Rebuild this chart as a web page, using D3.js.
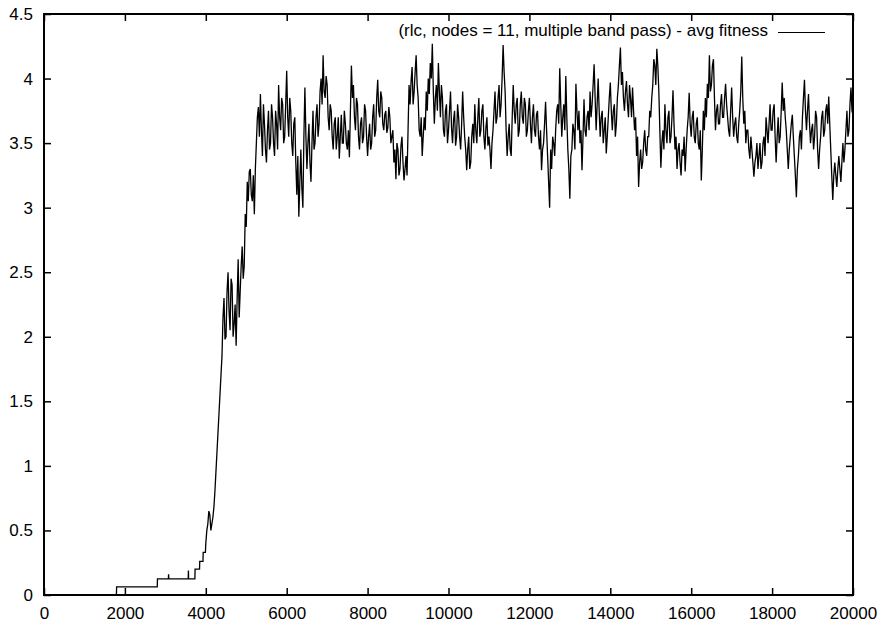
<!DOCTYPE html>
<html>
<head>
<meta charset="utf-8">
<script src="https://cdn.jsdelivr.net/npm/d3@7"></script>
<style>
  body { margin: 0; background: #fff; }
  text { font-family: "Liberation Sans", Arial, sans-serif; font-size: 17px; fill: #000; }
</style>
</head>
<body>
<div id="chart"></div>
<script>
// early generations: fitness climbs in small steps
var earlyGen = [0, 1790, 1795, 2800, 2805, 3075, 3080, 3085, 3565, 3570, 3575, 3730, 3735, 3845, 3850, 3930, 3935, 3990];
var earlyFit = [0, 0, 0.0625, 0.0625, 0.125, 0.125, 0.16, 0.125, 0.125, 0.19, 0.125, 0.125, 0.2, 0.2, 0.26, 0.26, 0.33, 0.33];

// after that, one value every 25 generations, one array per 1000 generations
var sampleStep = 25;
var fit4000 = [0.40, 0.50, 0.55, 0.65, 0.62, 0.50, 0.55, 0.60, 0.68, 0.80, 0.95, 1.10, 1.25, 1.40, 1.55, 1.70, 1.85, 2.15, 2.30, 1.98,
               2.00, 2.35, 2.50, 2.20, 2.05, 2.45, 2.40, 2.00, 2.10, 2.25, 1.93, 2.30, 2.60, 2.15, 2.35, 2.55, 2.70, 2.45, 2.55, 2.95];
var fit5000 = [2.85, 3.20, 3.05, 3.28, 3.30, 3.10, 3.05, 3.25, 2.95, 3.30, 3.50, 3.70, 3.78, 3.55, 3.88, 3.60, 3.40, 3.80, 3.65, 3.45,
               3.35, 3.60, 3.75, 3.45, 3.50, 3.80, 3.70, 3.50, 3.40, 3.75, 3.65, 3.45, 3.95, 3.70, 3.60, 3.85, 3.80, 3.50, 3.55, 3.80];
var fit6000 = [4.06, 3.70, 3.55, 3.85, 3.75, 3.50, 3.40, 3.65, 3.70, 3.35, 3.10, 3.40, 2.93, 3.20, 3.45, 3.15, 3.00, 3.55, 3.93, 3.55,
               3.30, 3.50, 3.65, 3.35, 3.20, 3.50, 3.75, 3.45, 3.50, 3.70, 3.80, 3.55, 3.65, 3.90, 4.00, 3.80, 4.18, 3.90, 3.85, 4.02];
var fit7000 = [3.95, 3.70, 3.60, 3.80, 3.75, 3.55, 3.45, 3.65, 3.70, 3.45, 3.55, 3.70, 3.38, 3.55, 3.72, 3.50, 3.50, 3.75, 3.65, 3.50,
               3.45, 3.60, 3.39, 3.75, 4.10, 3.85, 3.95, 3.70, 3.60, 3.85, 3.80, 3.55, 3.45, 3.65, 3.70, 3.50, 3.55, 3.80, 3.75, 3.55];
var fit8000 = [3.40, 3.55, 3.65, 3.45, 3.50, 3.70, 3.80, 3.55, 3.60, 3.85, 3.99, 3.75, 3.70, 3.90, 3.85, 3.65, 3.60, 3.72, 3.75, 3.58,
               3.62, 3.78, 3.70, 3.50, 3.55, 3.60, 3.35, 3.45, 3.22, 3.50, 3.45, 3.25, 3.30, 3.48, 3.55, 3.35, 3.21, 3.30, 3.40, 3.25];
var fit9000 = [3.60, 3.95, 3.80, 3.98, 4.09, 3.80, 3.90, 4.05, 4.18, 3.95, 3.85, 3.60, 3.55, 3.70, 3.40, 3.55, 3.70, 3.60, 3.90, 3.75,
               4.00, 3.88, 4.12, 4.00, 4.27, 3.90, 3.65, 3.85, 3.95, 3.75, 4.12, 3.90, 3.70, 3.95, 3.85, 3.60, 3.55, 3.75, 3.80, 3.50];
var fit10000 = [3.60, 3.75, 3.90, 3.62, 3.50, 3.68, 3.75, 3.48, 3.55, 3.80, 3.70, 3.55, 3.45, 3.65, 3.90, 3.70, 3.55, 3.45, 3.29, 3.45,
                3.55, 3.30, 3.35, 3.55, 3.65, 3.50, 3.80, 3.60, 3.50, 3.70, 3.85, 3.55, 3.60, 3.75, 3.80, 3.55, 3.45, 3.62, 3.70, 3.48];
var fit11000 = [3.55, 3.45, 3.30, 3.50, 3.60, 3.75, 3.90, 3.65, 3.70, 3.85, 3.95, 3.70, 3.80, 4.00, 4.26, 4.05, 3.90, 3.60, 3.40, 3.55,
                3.65, 3.45, 3.40, 3.70, 3.95, 3.75, 3.65, 3.80, 3.85, 3.55, 3.60, 3.80, 3.90, 3.70, 3.65, 3.85, 3.80, 3.55, 3.60, 3.75];
var fit12000 = [3.85, 3.65, 3.50, 3.70, 3.80, 3.60, 3.55, 3.72, 3.75, 3.55, 3.45, 3.60, 3.29, 3.45, 3.50, 3.65, 3.82, 3.60, 3.40, 3.20,
                3.00, 3.45, 3.30, 3.55, 3.50, 3.40, 3.61, 3.75, 3.80, 3.65, 4.08, 3.80, 3.55, 3.70, 3.80, 3.60, 4.02, 3.70, 3.45, 3.30];
var fit13000 = [3.07, 3.40, 3.45, 3.65, 3.60, 3.45, 3.96, 3.75, 3.60, 3.75, 3.50, 3.60, 3.29, 3.55, 3.84, 3.60, 3.55, 3.70, 3.75, 3.60,
                3.90, 3.70, 3.80, 3.95, 4.11, 3.85, 3.60, 3.80, 4.00, 3.75, 3.55, 3.70, 3.75, 3.50, 3.60, 3.70, 3.42, 3.55, 3.70, 3.85];
var fit14000 = [3.97, 3.75, 3.60, 3.75, 3.80, 3.55, 3.65, 3.85, 3.95, 4.10, 4.24, 3.95, 4.05, 3.85, 3.75, 3.90, 3.98, 3.80, 3.70, 3.95,
                3.85, 3.70, 3.93, 3.75, 3.60, 3.70, 3.40, 3.55, 3.16, 3.35, 3.45, 3.30, 3.35, 3.50, 3.60, 3.45, 3.40, 3.55, 3.55, 3.75];
var fit15000 = [3.70, 3.85, 3.95, 4.15, 4.10, 3.95, 4.23, 4.10, 3.90, 3.60, 3.31, 3.50, 3.60, 3.45, 3.80, 3.60, 3.50, 3.70, 3.75, 3.50,
                3.55, 3.70, 3.91, 3.65, 3.45, 3.55, 3.30, 3.45, 3.50, 3.35, 3.25, 3.45, 3.40, 3.55, 3.28, 3.45, 3.60, 3.70, 3.89, 3.65];
var fit16000 = [3.55, 3.70, 3.75, 3.55, 3.50, 3.65, 3.70, 3.50, 3.45, 3.60, 3.21, 3.45, 3.75, 3.60, 3.85, 3.70, 3.96, 3.85, 4.18, 3.90,
                3.95, 4.10, 4.15, 3.85, 3.60, 3.75, 3.80, 3.65, 3.65, 3.80, 3.88, 3.70, 3.70, 3.85, 3.96, 3.80, 3.70, 3.60, 3.55, 3.75];
var fit17000 = [3.93, 3.70, 3.55, 3.65, 3.70, 3.55, 3.50, 3.65, 3.75, 3.90, 4.17, 3.85, 3.65, 3.75, 3.50, 3.60, 3.60, 3.45, 3.38, 3.55,
                3.45, 3.35, 3.24, 3.35, 3.40, 3.50, 3.30, 3.40, 3.50, 3.30, 3.35, 3.50, 3.55, 3.40, 3.70, 3.60, 3.50, 3.65, 3.80, 3.60];
var fit18000 = [3.60, 3.75, 3.80, 3.55, 3.35, 3.55, 3.70, 3.50, 3.55, 3.75, 3.97, 3.75, 3.85, 3.70, 3.60, 3.45, 3.30, 3.45, 3.55, 3.65,
                3.72, 3.55, 3.40, 3.25, 3.08, 3.30, 3.40, 3.55, 3.60, 3.45, 3.70, 3.85, 3.99, 3.75, 3.60, 3.75, 3.88, 3.65, 3.50, 3.60];
var fit19000 = [3.65, 3.45, 3.55, 3.75, 3.70, 3.45, 3.30, 3.45, 3.55, 3.70, 3.75, 3.55, 3.60, 3.75, 3.80, 3.65, 3.86, 3.65, 3.45, 3.25,
                3.06, 3.25, 3.35, 3.25, 3.16, 3.30, 3.40, 3.30, 3.20, 3.35, 3.50, 3.35, 3.45, 3.60, 3.75, 3.55, 3.60, 3.80, 3.93, 3.75,
                3.72];

var blocks = [
  {start: 4000, fit: fit4000}, {start: 5000, fit: fit5000}, {start: 6000, fit: fit6000},
  {start: 7000, fit: fit7000}, {start: 8000, fit: fit8000}, {start: 9000, fit: fit9000},
  {start: 10000, fit: fit10000}, {start: 11000, fit: fit11000}, {start: 12000, fit: fit12000},
  {start: 13000, fit: fit13000}, {start: 14000, fit: fit14000}, {start: 15000, fit: fit15000},
  {start: 16000, fit: fit16000}, {start: 17000, fit: fit17000}, {start: 18000, fit: fit18000},
  {start: 19000, fit: fit19000}
];

var xTicks = [0, 2000, 4000, 6000, 8000, 10000, 12000, 14000, 16000, 18000, 20000];
var yTicks = [0, 0.5, 1, 1.5, 2, 2.5, 3, 3.5, 4, 4.5];
var legendLabel = "(rlc, nodes = 11, multiple band pass) - avg fitness";

// build the series
var series = [];
earlyGen.forEach(function(g, i) {
  series.push({gen: g, fit: earlyFit[i]});
});
blocks.forEach(function(b) {
  b.fit.forEach(function(f, i) {
    series.push({gen: b.start + i * sampleStep, fit: f});
  });
});

// svg
var w = 888, h = 629;
var box = {left: 44, right: 853, top: 14, bottom: 595};

var svg = d3.select("#chart")
            .append("svg")
            .attr("width", w)
            .attr("height", h);

// scales
var xScale = d3.scaleLinear()
               .domain([0, 20000])
               .range([box.left, box.right]);

var yScale = d3.scaleLinear()
               .domain([0, 4.5])
               .range([box.bottom, box.top]);

// axes, ticks point inward and are mirrored on top / right
var tickLen = 7;

function styleAxis(g) {
  g.select(".domain").remove();
  g.selectAll(".tick line").attr("stroke", "#000").attr("stroke-width", 1.5);
}

svg.append("g")
   .attr("transform", "translate(0," + box.bottom + ")")
   .call(d3.axisBottom(xScale).tickValues(xTicks).tickSize(-tickLen).tickPadding(12).tickFormat(d3.format("d")))
   .call(styleAxis);

svg.append("g")
   .attr("transform", "translate(0," + box.top + ")")
   .call(d3.axisTop(xScale).tickValues(xTicks).tickSize(-tickLen).tickFormat(""))
   .call(styleAxis);

svg.append("g")
   .attr("transform", "translate(" + box.left + ",0)")
   .call(d3.axisLeft(yScale).tickValues(yTicks).tickSize(-tickLen).tickPadding(11).tickFormat(d3.format("")))
   .call(styleAxis);

svg.append("g")
   .attr("transform", "translate(" + box.right + ",0)")
   .call(d3.axisRight(yScale).tickValues(yTicks).tickSize(-tickLen).tickFormat(""))
   .call(styleAxis);

// let css control the font
svg.selectAll("g").attr("font-family", null).attr("font-size", null);

// the data line
var line = d3.line()
             .x(function(d) { return xScale(d.gen); })
             .y(function(d) { return yScale(d.fit); });

svg.append("path")
   .datum(series)
   .attr("fill", "none")
   .attr("stroke", "#000")
   .attr("stroke-width", 1.3)
   .attr("d", line);

// frame
svg.append("rect")
   .attr("x", box.left)
   .attr("y", box.top)
   .attr("width", box.right - box.left)
   .attr("height", box.bottom - box.top)
   .attr("fill", "none")
   .attr("stroke", "#000")
   .attr("stroke-width", 2);

// legend
svg.append("text")
   .attr("x", 768)
   .attr("y", 36)
   .style("text-anchor", "end")
   .text(legendLabel);

svg.append("line")
   .attr("x1", 778)
   .attr("x2", 825)
   .attr("y1", 32.5)
   .attr("y2", 32.5)
   .attr("stroke", "#000")
   .attr("stroke-width", 1);
</script>
</body>
</html>
